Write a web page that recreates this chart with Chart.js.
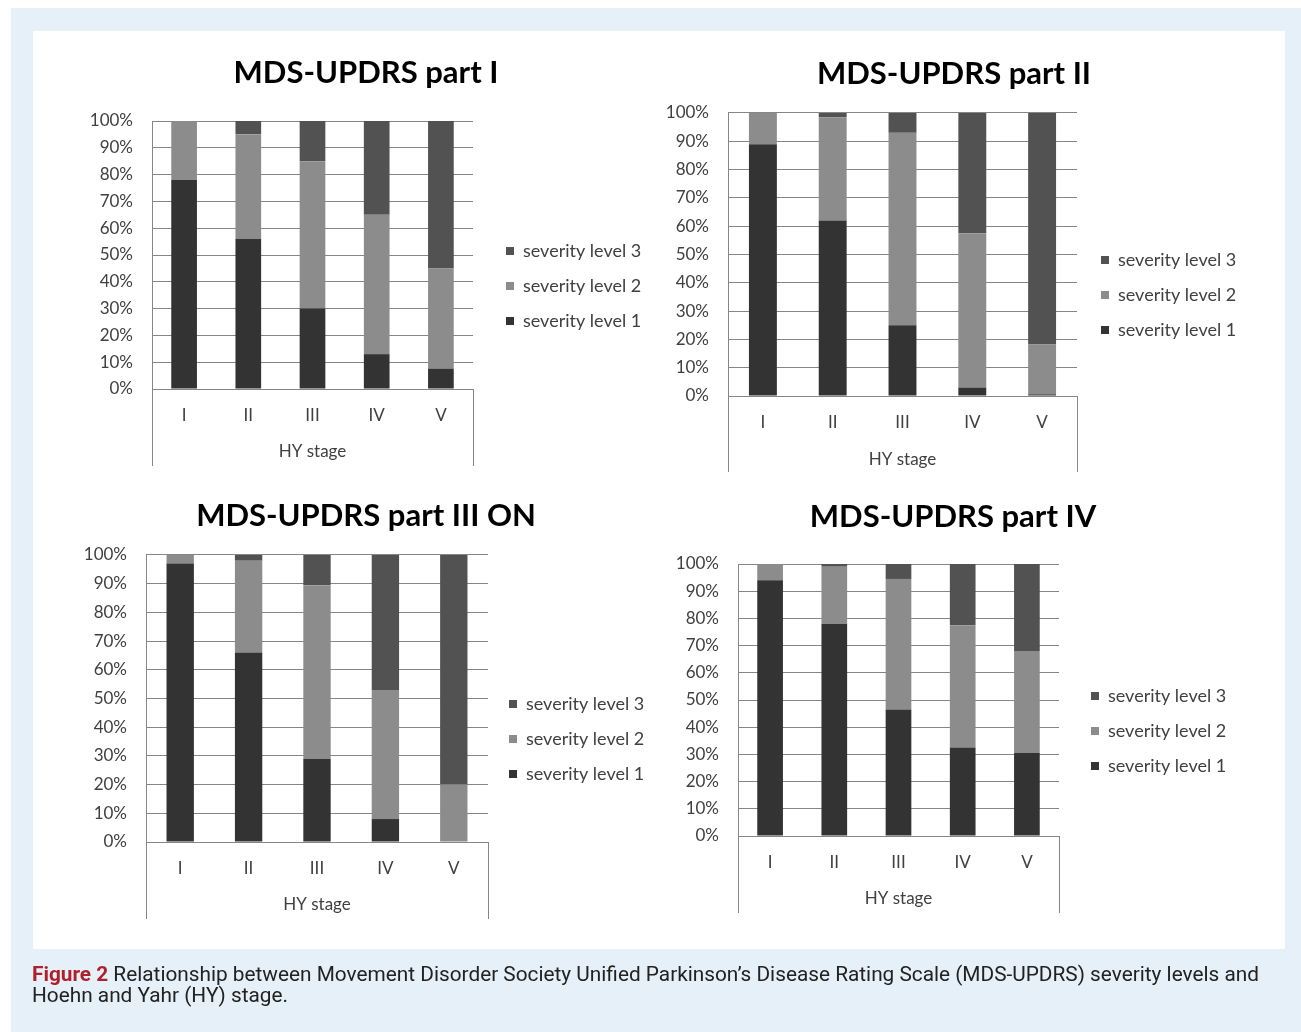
<!DOCTYPE html>
<html>
<head>
<meta charset="utf-8">
<title>MDS-UPDRS severity by HY stage</title>
<script src="https://cdn.jsdelivr.net/npm/chart.js@4.4.0/dist/chart.umd.min.js"></script>
<style>
  body { margin: 0; width: 1301px; height: 1032px; position: relative; overflow: hidden; background: #fff; }
  .frame { position: absolute; left: 11px; top: 8px; right: 0; bottom: 0; background: #e6f0f9; }
  .panel { position: absolute; left: 33px; top: 31px; width: 1252px; height: 918px; background: #fff; }
  canvas { position: absolute; }
  .caption {
    position: absolute; left: 32px; top: 964px; white-space: nowrap;
    font-family: Roboto, sans-serif; font-size: 20.8px; line-height: 21px; color: #222;
  }
  .caption b { color: #b01f2c; font-weight: bold; }
</style>
</head>
<body>
<div class="frame"></div>
<div class="panel"></div>
<canvas id="partI"></canvas>
<canvas id="partII"></canvas>
<canvas id="partIII"></canvas>
<canvas id="partIV"></canvas>
<div class="caption"><b>Figure 2</b> Relationship between Movement Disorder Society Unified Parkinson’s Disease Rating Scale (MDS-UPDRS) severity levels and<br>Hoehn and Yahr (HY) stage.</div>

<script>
/* global Chart */

// HY stages on the x axis
const stages = ['I', 'II', 'III', 'IV', 'V'];
const levelNames = ['severity level 1', 'severity level 2', 'severity level 3'];
const levelColors = ['#333333', '#8c8c8c', '#525252'];

// percent of patients per severity level
const partI_level1 = [78, 56, 30, 13, 7.5];
const partI_level2 = [22, 39, 55, 52, 37.5];
const partI_level3 = [0, 5, 15, 35, 55];

const partII_level1 = [89, 62, 25, 3, 0.6];
const partII_level2 = [11, 36.5, 68, 54.5, 17.6];
const partII_level3 = [0, 1.5, 7, 42.5, 81.8];

const partIII_level1 = [97, 66, 29, 8, 0];
const partIII_level2 = [3, 32, 60.5, 45, 20];
const partIII_level3 = [0, 2, 10.5, 47, 80];

const partIV_level1 = [94, 78, 46.5, 32.5, 30.5];
const partIV_level2 = [6, 21, 48, 45, 37.5];
const partIV_level3 = [0, 1, 5.5, 22.5, 32];

Chart.defaults.font.family = 'Lato';

const gridColor = '#868686';
const textColor = '#404040';
const legendFont = 18;
const legendPad = 17;
const legendBox = 8;

// legend width as chart.js will work it out (box + gap + text + padding + 10)
const meas = document.createElement('canvas').getContext('2d');
meas.font = legendFont + 'px Lato';
const legendTextW = Math.max(...levelNames.map(t => meas.measureText(t).width));
const legendW = legendPad + legendBox + legendFont / 2 + legendTextW + 10;

// excel style box under the plot: side lines running down past the labels
const hyBox = {
  id: 'hyBox',
  afterDraw(chart, args, opts) {
    const { ctx, chartArea } = chart;
    ctx.save();
    ctx.strokeStyle = gridColor;
    ctx.lineWidth = 1;
    ctx.beginPath();
    [chartArea.left, chartArea.right].forEach(px => {
      const p = Math.round(px - 0.5) + 0.5;
      ctx.moveTo(p, chartArea.bottom);
      ctx.lineTo(p, chartArea.bottom + opts.depth);
    });
    ctx.stroke();
    ctx.restore();
  }
};

function makeChart(id, title, levels, lay) {
  const canvas = document.getElementById(id);
  canvas.width = lay.width;
  canvas.height = lay.height;
  canvas.style.left = lay.left + 'px';
  canvas.style.top = lay.top + 'px';

  // horizontal layout: title centred on the canvas content, legend right of the plot
  const legendLeft = lay.legendX - legendPad;
  const contentRight = legendLeft + legendW;
  const contentLeft = 2 * lay.titleX - contentRight;
  const padL = contentLeft - lay.left;
  const padR = lay.left + lay.width - contentRight;
  const yWidth = lay.plotLeft - contentLeft;
  const gap = legendLeft - lay.plotRight;

  return new Chart(canvas, {
    type: 'bar',
    data: {
      labels: stages,
      datasets: levels.map((values, i) => ({
        label: levelNames[i],
        data: values,
        backgroundColor: levelColors[i],
        borderWidth: 0,
        categoryPercentage: 1,
        barPercentage: 0.4,
      })),
    },
    plugins: [hyBox],
    options: {
      responsive: false,
      animation: false,
      layout: { padding: { left: padL, right: padR, top: 0, bottom: 0 } },
      plugins: {
        title: {
          display: true,
          text: title,
          color: '#000',
          font: { size: 31, weight: 'bold' },
          padding: { top: lay.titleTop, bottom: lay.titleBottom },
        },
        legend: {
          position: 'right',
          reverse: true,
          maxWidth: 400,
          labels: { boxWidth: legendBox, boxHeight: legendBox, padding: legendPad, color: textColor, font: { size: legendFont } },
        },
        tooltip: { enabled: false },
        hyBox: { depth: lay.depth },
      },
      scales: {
        x: {
          stacked: true,
          grid: { display: false },
          border: { color: gridColor },
          ticks: { color: textColor, font: { size: 17 }, padding: 8 },
          title: {
            display: true, text: 'HY stage', color: textColor,
            font: { size: 17 }, padding: { top: 0, bottom: lay.hyPad },
          },
          afterFit: s => { s.height = lay.xHeight; },
        },
        y: {
          stacked: true,
          min: 0,
          max: 100,
          ticks: { stepSize: 10, callback: v => v + '%', color: textColor, font: { size: 17 }, padding: 19 },
          grid: { color: gridColor, drawTicks: false },
          border: { color: gridColor },
          afterFit: s => { s.width = yWidth; },
        },
        // empty spacer between plot and legend
        gap: {
          type: 'linear',
          position: 'right',
          grid: { display: false },
          border: { display: false },
          ticks: { display: false },
          afterFit: s => { s.width = gap; },
        },
      },
    },
  });
}

makeChart('partI', 'MDS-UPDRS part I', [partI_level1, partI_level2, partI_level3],
  { left: 40, top: 50, width: 640, height: 472, titleX: 366, plotLeft: 152, plotRight: 473, legendX: 506,
    titleTop: 4.4, titleBottom: 29.4, xHeight: 133, depth: 77, hyPad: 59.8 });
makeChart('partII', 'MDS-UPDRS part II', [partII_level1, partII_level2, partII_level3],
  { left: 620, top: 50, width: 660, height: 490, titleX: 954, plotLeft: 728, plotRight: 1077, legendX: 1101,
    titleTop: 5.4, titleBottom: 20.4, xHeight: 144, depth: 76, hyPad: 69.8 });
makeChart('partIII', 'MDS-UPDRS part III ON', [partIII_level1, partIII_level2, partIII_level3],
  { left: 40, top: 493, width: 640, height: 492, titleX: 366, plotLeft: 146, plotRight: 488, legendX: 509,
    titleTop: 4.4, titleBottom: 20.4, xHeight: 143, depth: 77, hyPad: 69.8 });
makeChart('partIV', 'MDS-UPDRS part IV', [partIV_level1, partIV_level2, partIV_level3],
  { left: 620, top: 493, width: 660, height: 476, titleX: 953, plotLeft: 738, plotRight: 1059, legendX: 1091,
    titleTop: 5.4, titleBottom: 28.4, xHeight: 133, depth: 77, hyPad: 59.8 });
</script>
</body>
</html>
